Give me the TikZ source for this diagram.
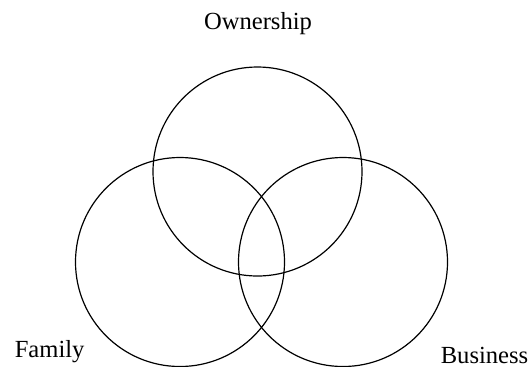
\documentclass[tikz,border=0pt]{standalone}
\usepackage{fontspec}
\setmainfont{Liberation Serif}
\usetikzlibrary{calc}

\begin{document}
\begin{tikzpicture}[x=0.5pt,y=-0.5pt,thick]
      \useasboundingbox (0,0) rectangle (529,366);

      % the three overlapping sets
      \tikzset{set/.style={draw=black,line width=0.6pt,circle,inner sep=0pt,minimum size=104.5pt}}
      \tikzset{lbl/.style={font=\fontsize{12.3}{14}\selectfont,inner sep=0pt}}

      \node [set, name=own] at (257.5,171.5) {};
      \node [set, name=fam] at (180,262) {};
      \node [set, name=bus] at (343,262) {};

      \node [lbl, anchor=base, name=ownlbl] at (258,29) {Ownership};
      \node [lbl, anchor=base west, name=famlbl] at (14,357) {Family};
      \node [lbl, anchor=base west, name=buslbl] at (440,363) {Business};

    \end{tikzpicture}
\end{document}
